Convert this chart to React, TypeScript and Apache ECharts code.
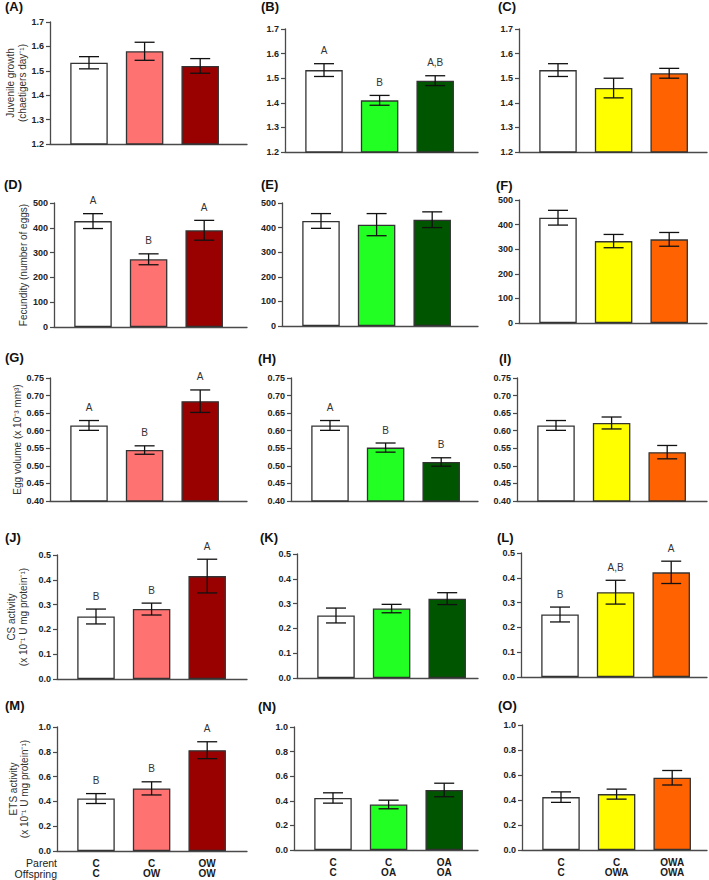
import React, { useEffect, useRef } from "react";
import * as echarts from "echarts";

// ---------- data ----------
const categoriesOW = ["C\nC", "C\nOW", "OW\nOW"];
const categoriesOA = ["C\nC", "C\nOA", "OA\nOA"];
const categoriesOWA = ["C\nC", "C\nOWA", "OWA\nOWA"];

const colorsOW = ["#FFFFFF", "#FF7272", "#990000"];
const colorsOA = ["#FFFFFF", "#22FF22", "#005500"];
const colorsOWA = ["#FFFFFF", "#FFFF00", "#FF6200"];

// Juvenile growth (chaetigers day-1)
const growthOW = [1.533, 1.58, 1.52];
const growthOWErr = [0.025, 0.037, 0.03];
const growthOWSig = ["", "", ""];
const growthOA = [1.533, 1.41, 1.49];
const growthOAErr = [0.026, 0.02, 0.02];
const growthOASig = ["A", "B", "A,B"];
const growthOWA = [1.533, 1.46, 1.52];
const growthOWAErr = [0.026, 0.04, 0.02];
const growthOWASig = ["", "", ""];

// Fecundity (number of eggs)
const fecundityOW = [427, 273, 390];
const fecundityOWErr = [30, 22, 40];
const fecundityOWSig = ["A", "B", "A"];
const fecundityOA = [427, 412, 432];
const fecundityOAErr = [30, 45, 32];
const fecundityOASig = ["", "", ""];
const fecundityOWA = [428, 333, 340];
const fecundityOWAErr = [30, 27, 28];
const fecundityOWASig = ["", "", ""];

// Egg volume (x 10-3 mm3)
const eggOW = [0.615, 0.545, 0.684];
const eggOWErr = [0.014, 0.012, 0.032];
const eggOWSig = ["A", "B", "A"];
const eggOA = [0.615, 0.552, 0.511];
const eggOAErr = [0.014, 0.013, 0.012];
const eggOASig = ["A", "B", "B"];
const eggOWA = [0.615, 0.622, 0.539];
const eggOWAErr = [0.014, 0.017, 0.019];
const eggOWASig = ["", "", ""];

// CS activity
const csOW = [0.252, 0.282, 0.415];
const csOWErr = [0.03, 0.024, 0.068];
const csOWSig = ["B", "B", "A"];
const csOA = [0.252, 0.28, 0.32];
const csOAErr = [0.03, 0.017, 0.024];
const csOASig = ["", "", ""];
const csOWA = [0.252, 0.342, 0.422];
const csOWAErr = [0.03, 0.048, 0.045];
const csOWASig = ["B", "A,B", "A"];

// ETS activity
const etsOW = [0.423, 0.505, 0.813];
const etsOWErr = [0.04, 0.053, 0.068];
const etsOWSig = ["B", "B", "A"];
const etsOA = [0.423, 0.37, 0.488];
const etsOAErr = [0.042, 0.035, 0.055];
const etsOASig = ["", "", ""];
const etsOWA = [0.423, 0.447, 0.578];
const etsOWAErr = [0.042, 0.04, 0.058];
const etsOWASig = ["", "", ""];

// y axis ranges [min, max, interval, decimals]
const growthAxis = [1.2, 1.7, 0.1, 1];
const fecundityAxis = [0, 500, 100, 0];
const eggAxis = [0.4, 0.75, 0.05, 2];
const csAxis = [0, 0.5, 0.1, 1];
const etsAxis = [0, 1.0, 0.2, 1];

const panelLetters = ["(A)", "(B)", "(C)", "(D)", "(E)", "(F)", "(G)", "(H)", "(I)", "(J)", "(K)", "(L)", "(M)", "(N)", "(O)"];
const yTitles = [
  "Juvenile growth\n(chaetigers day\u207B\u00B9)",
  "Fecundity (number of eggs)",
  "Egg volume (x 10\u207B\u00B3 mm\u00B3)",
  "CS activity\n(x 10\u207B\u00B9 U mg protein\u207B\u00B9)",
  "ETS activity\n(x 10\u207B\u00B9 U mg protein\u207B\u00B9)",
];

// ---------- layout ----------
const panelLeft = [50, 285, 519, 54, 282, 519, 50, 291, 517, 57, 297, 521, 57, 294, 522];
const panelTop = [22, 29, 29, 203, 203, 200, 378, 378, 378, 555, 554, 553, 727, 727, 725];
const panelBottom = [144, 152, 152, 327, 326, 323, 501, 501, 501, 679, 678, 677, 851, 850, 850];
const colRight = [247, 478, 707];
const letterPos = [
  [5, 7], [261, 7], [498, 7],
  [4, 185], [261, 185], [496, 186],
  [5, 358], [258, 359], [499, 359],
  [5, 538], [260, 538], [497, 538],
  [5, 706], [258, 707], [498, 706],
];
const yTitleX = [16.5, 23, 17, 17.5, 19];
const FIRST_OFFSET = 39;
const SPACING = 55.6;
const FONT = "'Liberation Sans', Arial, Helvetica, sans-serif";

export default function App() {
  const ref = useRef<HTMLDivElement>(null);

  useEffect(() => {
    document.body.style.margin = "0";
    if (!ref.current) return;
    const chart = echarts.init(ref.current, undefined, { renderer: "svg" });

    const rows = [
      { axis: growthAxis, cols: [[growthOW, growthOWErr, growthOWSig], [growthOA, growthOAErr, growthOASig], [growthOWA, growthOWAErr, growthOWASig]] },
      { axis: fecundityAxis, cols: [[fecundityOW, fecundityOWErr, fecundityOWSig], [fecundityOA, fecundityOAErr, fecundityOASig], [fecundityOWA, fecundityOWAErr, fecundityOWASig]] },
      { axis: eggAxis, cols: [[eggOW, eggOWErr, eggOWSig], [eggOA, eggOAErr, eggOASig], [eggOWA, eggOWAErr, eggOWASig]] },
      { axis: csAxis, cols: [[csOW, csOWErr, csOWSig], [csOA, csOAErr, csOASig], [csOWA, csOWAErr, csOWASig]] },
      { axis: etsAxis, cols: [[etsOW, etsOWErr, etsOWSig], [etsOA, etsOAErr, etsOASig], [etsOWA, etsOWAErr, etsOWASig]] },
    ];
    const colColors = [colorsOW, colorsOA, colorsOWA];
    const colCats = [categoriesOW, categoriesOA, categoriesOWA];

    const grids: any[] = [];
    const xAxes: any[] = [];
    const yAxes: any[] = [];
    const series: any[] = [];
    const graphics: any[] = [];

    rows.forEach((row, r) => {
      row.cols.forEach((col, c) => {
        const i = r * 3 + c;
        const left = panelLeft[i];
        const right = colRight[c];
        const top = panelTop[i];
        const bottom = panelBottom[i];
        grids.push({ left, top, width: right - left, height: bottom - top, containLabel: false });
        const xmin = 1 - FIRST_OFFSET / SPACING;
        const xmax = 1 + (right - left - FIRST_OFFSET) / SPACING;
        const cats = colCats[c];
        xAxes.push({
          type: "value",
          gridIndex: i,
          min: xmin,
          max: xmax,
          axisLine: { show: true, onZero: false, lineStyle: { color: "#4a4a4a", width: 1.3 } },
          axisTick: { show: false },
          splitLine: { show: false },
          axisLabel: r === 4
            ? {
                show: true,
                customValues: [1, 2, 3],
                formatter: (v: number) => cats[Math.round(v) - 1] || "",
                fontFamily: FONT,
                fontSize: 10,
                fontWeight: "bold",
                color: "#1a1a1a",
                lineHeight: 10.5,
                margin: 7,
              }
            : { show: false },
        });
        const [ymin, ymax, step, dec] = row.axis;
        yAxes.push({
          type: "value",
          gridIndex: i,
          min: ymin,
          max: ymax,
          interval: step,
          axisLine: { show: true, lineStyle: { color: "#4a4a4a", width: 1.3 } },
          axisTick: { show: true, length: 4, lineStyle: { color: "#4a4a4a", width: 1.2 } },
          splitLine: { show: false },
          axisLabel: {
            fontFamily: FONT,
            fontSize: 9,
            fontWeight: "bold",
            color: "#222",
            margin: 6,
            formatter: (v: number) => v.toFixed(dec as number),
          },
        });
        const [means, errs, sigs] = col as [number[], number[], string[]];
        const colors = colColors[c];
        series.push({
          type: "bar",
          xAxisIndex: i,
          yAxisIndex: i,
          barWidth: 37.5,
          data: means.map((m, j) => ({
            value: [j + 1, m],
            itemStyle: { color: colors[j], borderColor: "#333", borderWidth: 1.3 },
          })),
          z: 2,
        });
        series.push({
          type: "custom",
          xAxisIndex: i,
          yAxisIndex: i,
          clip: false,
          z: 5,
          data: means.map((m, j) => [j + 1, m, errs[j]]),
          renderItem: (params: any, api: any) => {
            const x = api.value(0);
            const m = api.value(1);
            const e = api.value(2);
            const pt = api.coord([x, m + e]);
            const pb = api.coord([x, m - e]);
            const hw = 10;
            const ls = { stroke: "#111", lineWidth: 1.3 };
            const children: any[] = [
              { type: "line", shape: { x1: pt[0], y1: pt[1], x2: pb[0], y2: pb[1] }, style: ls },
              { type: "line", shape: { x1: pt[0] - hw, y1: pt[1], x2: pt[0] + hw, y2: pt[1] }, style: ls },
              { type: "line", shape: { x1: pb[0] - hw, y1: pb[1], x2: pb[0] + hw, y2: pb[1] }, style: ls },
            ];
            const s = sigs[params.dataIndex];
            if (s) {
              children.push({
                type: "text",
                x: pt[0],
                y: pt[1] - 13,
                style: {
                  text: s,
                  align: "center",
                  verticalAlign: "middle",
                  fontFamily: FONT,
                  fontSize: 10,
                  fill: "#333",
                },
              });
            }
            return { type: "group", children };
          },
        });
        graphics.push({
          type: "text",
          left: letterPos[i][0],
          top: letterPos[i][1] - 7,
          style: { text: panelLetters[i], fontFamily: FONT, fontSize: 13, fontWeight: "bold", fill: "#111" },
        });
      });
      const cy = (panelTop[r * 3] + panelBottom[r * 3]) / 2;
      graphics.push({
        type: "text",
        x: yTitleX[r],
        y: cy,
        rotation: Math.PI / 2,
        style: {
          text: yTitles[r],
          align: "center",
          verticalAlign: "middle",
          fontFamily: FONT,
          fontSize: 10,
          lineHeight: 11.5,
          fill: "#333",
        },
      });
    });

    graphics.push({
      type: "text",
      x: 57,
      y: 863,
      style: { text: "Parent", align: "right", verticalAlign: "middle", fontFamily: FONT, fontSize: 10.5, fill: "#222" },
    });
    graphics.push({
      type: "text",
      x: 57,
      y: 873.5,
      style: { text: "Offspring", align: "right", verticalAlign: "middle", fontFamily: FONT, fontSize: 10.5, fill: "#222" },
    });

    chart.setOption({
      animation: false,
      backgroundColor: "#FFFFFF",
      grid: grids,
      xAxis: xAxes,
      yAxis: yAxes,
      series,
      graphic: graphics,
    });

    return () => chart.dispose();
  }, []);

  return <div ref={ref} style={{ width: 709, height: 880 }} />;
}
